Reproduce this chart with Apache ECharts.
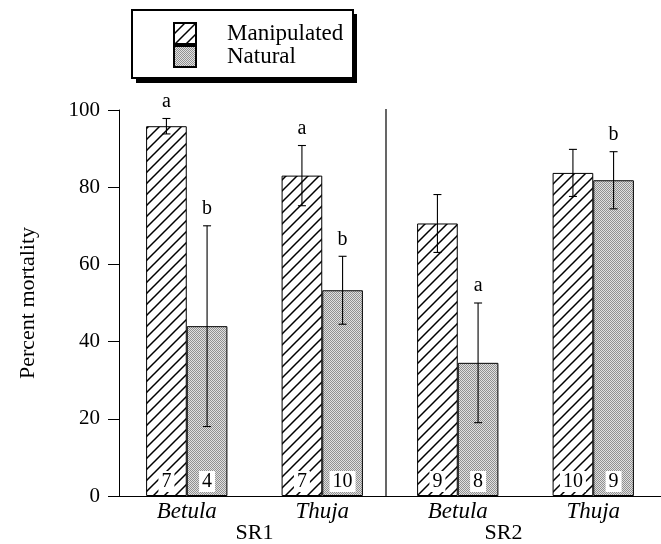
<!DOCTYPE html>
<html><head><meta charset="utf-8">
<script src="https://cdn.jsdelivr.net/npm/echarts@6/dist/echarts.min.js"></script>
<style>html,body{margin:0;padding:0;background:#fff}#c{width:661px;height:544px}</style>
</head><body><div id="c"></div>
<script>
const categories = ['Betula', 'Thuja', 'Betula', 'Thuja'];
const groups = ['SR1', 'SR2'];
const manipulated = [95.8, 83.0, 70.6, 83.7];
const manipulatedErr = [2.0, 7.8, 7.5, 6.1];
const natural = [44.0, 53.3, 34.5, 81.8];
const naturalErr = [26.0, 8.8, 15.5, 7.4];
const manipulatedN = [7, 7, 9, 10];
const naturalN = [4, 10, 8, 9];
const manipulatedLetters = ['a', 'a', '', ''];
const naturalLetters = ['b', 'b', 'a', 'b'];
const yTicks = [0, 20, 40, 60, 80, 100];
const dividerAfter = [1];

const FONT = '"Liberation Serif", "DejaVu Serif", serif';

function hatch() {
  const s = 11, cv = document.createElement('canvas');
  cv.width = s; cv.height = s;
  const g = cv.getContext('2d');
  g.fillStyle = '#fff'; g.fillRect(0, 0, s, s);
  g.strokeStyle = '#000'; g.lineWidth = 1.5;
  g.beginPath();
  g.moveTo(-1, s + 1); g.lineTo(s + 1, -1);
  g.moveTo(-2, 2); g.lineTo(2, -2);
  g.moveTo(s - 2, s + 2); g.lineTo(s + 2, s - 2);
  g.stroke();
  return cv;
}
function stipple() {
  const s = 4, cv = document.createElement('canvas');
  cv.width = s; cv.height = s;
  const g = cv.getContext('2d');
  for (let i = 0; i < s; i++) for (let j = 0; j < s; j++) {
    g.fillStyle = ((i + j) % 2 === 0) ? '#909090' : '#e0e0e0';
    g.fillRect(i, j, 1, 1);
  }
  return cv;
}

const errData = [];
categories.forEach((c, i) => {
  errData.push([i, manipulated[i], manipulatedErr[i], -1]);
  errData.push([i, natural[i], naturalErr[i], 1]);
});
function letterFor(idx) {
  const i = Math.floor(idx / 2);
  return idx % 2 === 0 ? manipulatedLetters[i] : naturalLetters[i];
}

const chart = echarts.init(document.getElementById('c'));
const labelCommon = {
  show: true, position: 'insideBottom', distance: 4,
  backgroundColor: '#fff', padding: [1, 3, 0, 3],
  fontFamily: FONT, fontSize: 20, color: '#000'
};
chart.setOption({
  animation: false,
  backgroundColor: '#fff',
  graphic: [
    { type: 'rect', z: 0, shape: { x: 136, y: 14, width: 221, height: 69 }, style: { fill: '#000' } },
    { type: 'rect', z: 1, shape: { x: 132, y: 10, width: 221, height: 68 }, style: { fill: '#fff', stroke: '#000', lineWidth: 2 } }
  ],
  legend: {
    left: 173, top: 22, orient: 'vertical', z: 10,
    itemWidth: 22, itemHeight: 21, itemGap: 0,
    padding: 0,
    icon: 'rect',
    textStyle: { fontFamily: FONT, fontSize: 23, color: '#000', padding: [0, 0, 0, 26] },
    data: ['Manipulated', 'Natural']
  },
  grid: { left: 119, right: 0, top: 110, bottom: 48, outerBoundsMode: 'none', containLabel: false },
  xAxis: [{
    type: 'category', data: categories,
    axisLine: { lineStyle: { color: '#000', width: 1 } },
    axisTick: { show: false },
    axisLabel: { fontFamily: FONT, fontSize: 23, fontStyle: 'italic', color: '#000', margin: 4 }
  }, {
    type: 'category', data: groups, position: 'bottom', offset: 16,
    axisLine: { show: false }, axisTick: { show: false },
    axisLabel: {
      margin: 10,
      formatter: (v) => v === 'SR2' ? '{b|' + v + '}' : '{a|' + v + '}',
      rich: {
        a: { fontFamily: FONT, fontSize: 22, color: '#000' },
        b: { fontFamily: FONT, fontSize: 22, color: '#000', padding: [0, 44, 0, 0] }
      }
    }
  }],
  yAxis: {
    type: 'value', min: 0, max: 100, interval: 20,
    name: 'Percent mortality', nameLocation: 'middle', nameGap: 80,
    nameTextStyle: { fontFamily: FONT, fontSize: 22, color: '#000' },
    axisLine: { show: true, lineStyle: { color: '#000', width: 1 } },
    axisTick: { show: true, length: 11, lineStyle: { color: '#000' } },
    splitLine: { show: false },
    axisLabel: { fontFamily: FONT, fontSize: 21, color: '#000', margin: 19,
      formatter: (v) => yTicks.includes(v) ? String(v) : '' }
  },
  series: [{
    name: 'Manipulated', type: 'bar', data: manipulated,
    barWidth: '30%', barGap: '0%',
    itemStyle: { color: { image: hatch(), repeat: 'repeat' }, borderColor: '#000', borderWidth: 1 },
    label: Object.assign({}, labelCommon, { formatter: (p) => String(manipulatedN[p.dataIndex]) })
  }, {
    name: 'Natural', type: 'bar', data: natural,
    barWidth: '30%', barGap: '0%',
    itemStyle: { color: { image: stipple(), repeat: 'repeat' }, borderColor: '#000', borderWidth: 1 },
    label: Object.assign({}, labelCommon, { formatter: (p) => String(naturalN[p.dataIndex]) })
  }, {
    type: 'custom', data: errData, z: 10,
    renderItem: function (params, api) {
      const x = api.value(0), m = api.value(1), e = api.value(2), side = api.value(3);
      const band = api.size([1, 0])[0];
      const cx = api.coord([x, m])[0] + side * band * 0.15;
      const top = api.coord([x, m + e])[1];
      const bot = api.coord([x, m - e])[1];
      const cap = 4;
      const st = { stroke: '#000', lineWidth: 1.1 };
      return {
        type: 'group', children: [
          { type: 'line', shape: { x1: cx, y1: top, x2: cx, y2: bot }, style: st },
          { type: 'line', shape: { x1: cx - cap, y1: top, x2: cx + cap, y2: top }, style: st },
          { type: 'line', shape: { x1: cx - cap, y1: bot, x2: cx + cap, y2: bot }, style: st },
          { type: 'text', x: cx, y: top - 17, style: {
            text: letterFor(params.dataIndex), fill: '#000', font: '20px ' + FONT,
            align: 'center', verticalAlign: 'middle' } }
        ]
      };
    }
  }, {
    type: 'custom', data: dividerAfter.map((d) => [d]), z: 5,
    renderItem: function (params, api) {
      const band = api.size([1, 0])[0];
      const x = api.coord([api.value(0), 0])[0] + band / 2 - 4;
      const y0 = api.coord([api.value(0), 0])[1];
      const y1 = api.coord([api.value(0), 100])[1];
      return { type: 'line', shape: { x1: x, y1: y0, x2: x, y2: y1 - 1 }, style: { stroke: '#000', lineWidth: 1.2 } };
    }
  }]
});
</script></body></html>
